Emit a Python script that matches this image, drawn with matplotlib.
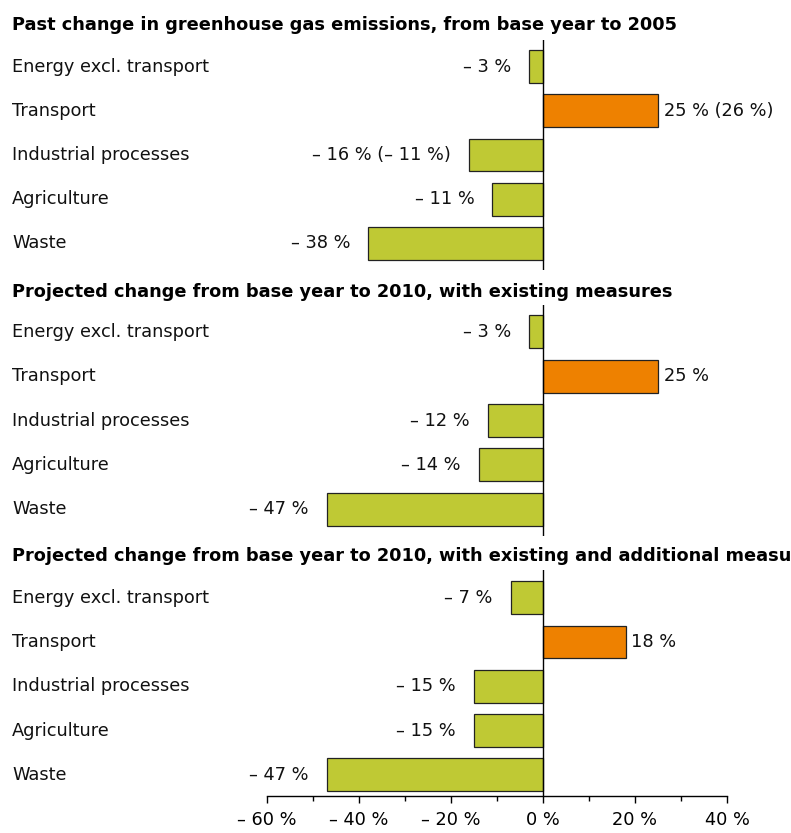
import matplotlib
matplotlib.use("Agg")
import matplotlib.pyplot as plt
from matplotlib.ticker import MultipleLocator, FixedLocator
import matplotlib.transforms as mtransforms

plt.rcParams['font.family'] = ['DejaVu Sans']

# Sectors and emission changes (%) relative to the base year
categories = ["Energy excl. transport", "Transport", "Industrial processes",
              "Agriculture", "Waste"]
past_2005 = [-3, 25, -16, -11, -38]
past_2005_alt = [None, 26, -11, None, None]          # values shown in brackets
proj_2010_existing = [-3, 25, -12, -14, -47]
proj_2010_additional = [-7, 18, -15, -15, -47]

panel_titles = [
    "Past change in greenhouse gas emissions, from base year to 2005",
    "Projected change from base year to 2010, with existing measures",
    "Projected change from base year to 2010, with existing and additional measures",
]
x_ticks = [-60, -40, -20, 0, 20, 40]

GREEN = "#bfc934"
ORANGE = "#ee8100"
EDGE = "#222222"
FS = 12.8

W, H = 791, 833
fig = plt.figure(figsize=(W / 100, H / 100), dpi=100)


def pct(v):
    return f"\u2013 {abs(v)} %" if v < 0 else f"{v} %"


def make_label(v, alt):
    s = pct(v)
    if alt is not None:
        s += f" ({pct(alt)})"
    return s


# Axes placements in pixels: (top, bottom) of each panel's plotting area
x_left, x_right = 267, 727
panels = [
    (past_2005, past_2005_alt, 40, 270, (-0.6, 4.6), 25),
    (proj_2010_existing, [None] * 5, 305, 536, (-0.6, 4.6), 292),
    (proj_2010_additional, [None] * 5, 570, 796, (-0.63, 4.48), 556),
]

for i, (vals, alts, top, bottom, ylim, title_y) in enumerate(panels):
    ax = fig.add_axes([x_left / W, 1 - bottom / H, (x_right - x_left) / W,
                       (bottom - top) / H])
    ypos = list(range(len(categories)))
    colors = [ORANGE if v > 0 else GREEN for v in vals]
    ax.barh(ypos, vals, height=0.74, color=colors, edgecolor=EDGE,
            linewidth=0.9, zorder=2)
    ax.axvline(0, color="black", linewidth=1.0, zorder=3)
    ax.set_xlim(-60, 40)
    ax.set_ylim(ylim[1], ylim[0])
    ax.set_yticks([])
    for side in ["top", "right", "left"]:
        ax.spines[side].set_visible(False)

    if i < 2:
        ax.spines["bottom"].set_visible(False)
        ax.set_xticks([])
    else:
        ax.spines["bottom"].set_linewidth(1.0)
        ax.xaxis.set_major_locator(FixedLocator(x_ticks))
        ax.xaxis.set_minor_locator(MultipleLocator(10))
        ax.set_xticklabels([pct(t) for t in x_ticks], fontsize=FS)
        ax.tick_params(axis="x", which="major", direction="out", length=5,
                       width=1.0, pad=6)
        ax.tick_params(axis="x", which="minor", direction="out", length=3.5,
                       width=1.0)

    # Category names at the left edge of the figure
    trans = mtransforms.blended_transform_factory(fig.transFigure, ax.transData)
    for y, name in zip(ypos, categories):
        ax.text(12 / W, y, name, transform=trans, ha="left", va="center",
                fontsize=FS, color="#111111")

    # Value labels next to each bar
    for y, v, a in zip(ypos, vals, alts):
        label = make_label(v, a)
        if v < 0:
            ax.annotate(label, (v, y), xytext=(-13, 0), textcoords="offset points",
                        ha="right", va="center", fontsize=FS, color="#111111",
                        annotation_clip=False)
        else:
            ax.annotate(label, (v, y), xytext=(4, 0), textcoords="offset points",
                        ha="left", va="center", fontsize=FS, color="#111111",
                        annotation_clip=False)

    fig.text(12 / W, 1 - title_y / H, panel_titles[i], ha="left", va="center",
             fontsize=FS, fontweight="bold", color="black")

fig.savefig("out.png", dpi=100, facecolor="white")
